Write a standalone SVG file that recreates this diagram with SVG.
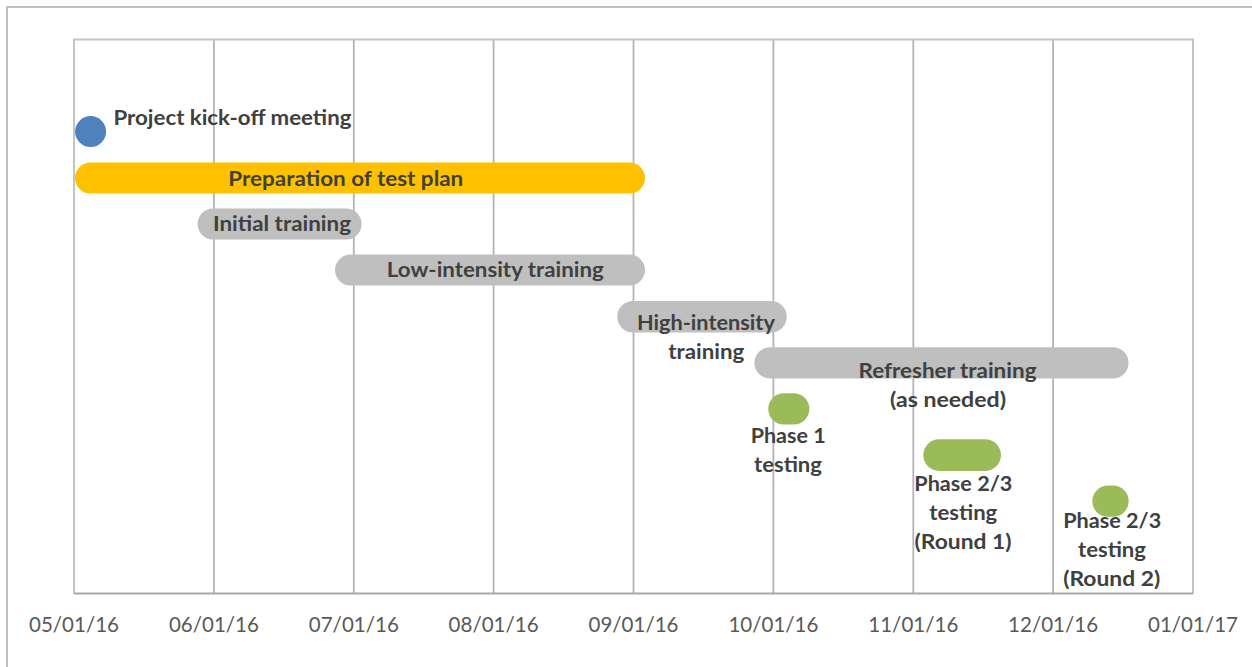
<svg xmlns="http://www.w3.org/2000/svg" width="1252" height="667" viewBox="0 0 1252 667">
  <style>
    .chart-border { fill: none; stroke: #c0c0c0; stroke-width: 2; }
    .frame { fill: none; stroke: #c4c4c4; stroke-width: 2; }
    .grid line { stroke: #b4b4b4; stroke-width: 1.8; }
    .axis-line { stroke: #a8a8a8; stroke-width: 2; }
    .tick { font-family: "Lato", "Open Sans", "Liberation Sans", sans-serif; font-size: 22px; fill: #595959; text-anchor: middle; }
    .lbl { font-family: "Lato", "Open Sans", "Liberation Sans", sans-serif; font-size: 21.6px; font-weight: bold; fill: #404040; text-anchor: middle; }
    .lbl-start { text-anchor: start; }
    .milestone { fill: #4f81bd; }
    .plan { fill: #ffc000; }
    .training { fill: #bfbfbf; }
    .testing { fill: #9bbb59; }
  </style>

  <!-- chart area outline (open to the right and bottom) -->
  <path class="chart-border" d="M7 667 V7 H1252"/>

  <!-- month gridlines -->
  <g class="grid">
    <line x1="213.9" y1="39" x2="213.9" y2="594"/>
    <line x1="353.8" y1="39" x2="353.8" y2="594"/>
    <line x1="493.6" y1="39" x2="493.6" y2="594"/>
    <line x1="633.5" y1="39" x2="633.5" y2="594"/>
    <line x1="773.4" y1="39" x2="773.4" y2="594"/>
    <line x1="913.3" y1="39" x2="913.3" y2="594"/>
    <line x1="1053.1" y1="39" x2="1053.1" y2="594"/>
  </g>

  <!-- plot area frame -->
  <path class="frame" d="M74 594 V39.5 H1193 V594"/>
  <line class="axis-line" x1="74" y1="593.5" x2="1193" y2="593.5"/>

  <!-- date axis -->
  <g id="axis-labels">
    <text class="tick" x="74" y="632" textLength="90" lengthAdjust="spacingAndGlyphs">05/01/16</text>
    <text class="tick" x="213.9" y="632" textLength="90" lengthAdjust="spacingAndGlyphs">06/01/16</text>
    <text class="tick" x="353.8" y="632" textLength="90" lengthAdjust="spacingAndGlyphs">07/01/16</text>
    <text class="tick" x="493.6" y="632" textLength="90" lengthAdjust="spacingAndGlyphs">08/01/16</text>
    <text class="tick" x="633.5" y="632" textLength="90" lengthAdjust="spacingAndGlyphs">09/01/16</text>
    <text class="tick" x="773.4" y="632" textLength="90" lengthAdjust="spacingAndGlyphs">10/01/16</text>
    <text class="tick" x="913.3" y="632" textLength="90" lengthAdjust="spacingAndGlyphs">11/01/16</text>
    <text class="tick" x="1053.1" y="632" textLength="90" lengthAdjust="spacingAndGlyphs">12/01/16</text>
    <text class="tick" x="1193" y="632" textLength="90" lengthAdjust="spacingAndGlyphs">01/01/17</text>
  </g>

  <!-- tasks -->
  <g id="kickoff">
    <circle class="milestone" cx="90.6" cy="131.6" r="15.5"/>
    <text class="lbl lbl-start" x="113.5" y="125" textLength="238" lengthAdjust="spacingAndGlyphs">Project kick-off meeting</text>
  </g>

  <g id="test-plan">
    <rect class="plan" x="75" y="162.5" width="570" height="31" rx="15.5"/>
    <text class="lbl" x="345.8" y="186" textLength="235" lengthAdjust="spacingAndGlyphs">Preparation of test plan</text>
  </g>

  <g id="initial-training">
    <rect class="training" x="197.6" y="208.5" width="164" height="31" rx="15.5"/>
    <text class="lbl" x="282" y="231" textLength="138" lengthAdjust="spacingAndGlyphs">Initial training</text>
  </g>

  <g id="low-intensity">
    <rect class="training" x="335" y="254.6" width="310" height="31" rx="15.5"/>
    <text class="lbl" x="495.3" y="277" textLength="217" lengthAdjust="spacingAndGlyphs">Low-intensity training</text>
  </g>

  <g id="high-intensity">
    <rect class="training" x="617.3" y="301" width="169.4" height="31.5" rx="15.7"/>
    <text class="lbl" x="705.9" y="329.5" textLength="138" lengthAdjust="spacingAndGlyphs">High-intensity</text>
    <text class="lbl" x="706.3" y="358.5" textLength="76" lengthAdjust="spacingAndGlyphs">training</text>
  </g>

  <g id="refresher">
    <rect class="training" x="754.5" y="347.2" width="374" height="31.3" rx="15.6"/>
    <text class="lbl" x="947.5" y="378.3" textLength="178" lengthAdjust="spacingAndGlyphs">Refresher training</text>
    <text class="lbl" x="948" y="407.3" textLength="116" lengthAdjust="spacingAndGlyphs">(as needed)</text>
  </g>

  <g id="phase-1">
    <rect class="testing" x="768.3" y="393.3" width="41" height="31.3" rx="15.6"/>
    <text class="lbl" x="788.2" y="443.3" textLength="75" lengthAdjust="spacingAndGlyphs">Phase 1</text>
    <text class="lbl" x="788" y="472" textLength="68" lengthAdjust="spacingAndGlyphs">testing</text>
  </g>

  <g id="phase-23-round-1">
    <rect class="testing" x="923.3" y="439.3" width="77.7" height="31.6" rx="15.8"/>
    <text class="lbl" x="963.3" y="491" textLength="98" lengthAdjust="spacingAndGlyphs">Phase 2/3</text>
    <text class="lbl" x="963.3" y="520" textLength="68" lengthAdjust="spacingAndGlyphs">testing</text>
    <text class="lbl" x="963" y="549" textLength="97" lengthAdjust="spacingAndGlyphs">(Round 1)</text>
  </g>

  <g id="phase-23-round-2">
    <rect class="testing" x="1092.3" y="485.6" width="36.4" height="31.2" rx="15.6"/>
    <text class="lbl" x="1112.2" y="527.5" textLength="98" lengthAdjust="spacingAndGlyphs">Phase 2/3</text>
    <text class="lbl" x="1112" y="556.5" textLength="68" lengthAdjust="spacingAndGlyphs">testing</text>
    <text class="lbl" x="1111.7" y="585.5" textLength="97" lengthAdjust="spacingAndGlyphs">(Round 2)</text>
  </g>
</svg>
